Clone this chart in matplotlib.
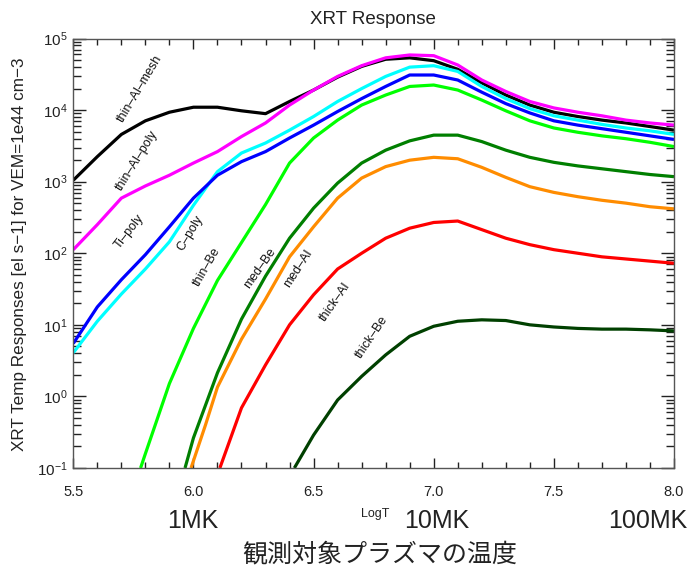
import numpy as np
import matplotlib
matplotlib.use("Agg")
import matplotlib.pyplot as plt
from matplotlib.ticker import LogLocator, MultipleLocator, LogFormatterSciNotation, NullFormatter

plt.rcParams['font.family'] = ['Liberation Sans', 'DejaVu Sans']
plt.rcParams['mathtext.fontset'] = 'custom'
plt.rcParams['mathtext.rm'] = 'Liberation Sans'

# ---- data (log10 of response) ----
logT_full = [5.5, 5.6, 5.7, 5.8, 5.9, 6.0, 6.1, 6.2, 6.3, 6.4, 6.5, 6.6, 6.7,
             6.8, 6.9, 7.0, 7.1, 7.2, 7.3, 7.4, 7.5, 7.6, 7.7, 7.8, 7.9, 8.0]

thin_al_mesh = [3.02, 3.35, 3.66, 3.85, 3.97, 4.04, 4.04, 3.99, 3.95, 4.12, 4.28, 4.46, 4.61,
                4.71, 4.73, 4.69, 4.57, 4.38, 4.21, 4.07, 3.97, 3.91, 3.86, 3.82, 3.77, 3.72]
thin_al_poly = [2.05, 2.40, 2.77, 2.94, 3.09, 3.26, 3.42, 3.63, 3.82, 4.07, 4.28, 4.47, 4.62,
                4.73, 4.77, 4.76, 4.63, 4.42, 4.26, 4.12, 4.03, 3.97, 3.92, 3.86, 3.82, 3.79]
c_poly = [0.61, 1.05, 1.43, 1.78, 2.16, 2.67, 3.14, 3.40, 3.54, 3.72, 3.91, 4.12, 4.30,
          4.47, 4.60, 4.62, 4.54, 4.33, 4.16, 4.02, 3.92, 3.86, 3.80, 3.75, 3.71, 3.66]
ti_poly = [0.74, 1.25, 1.63, 1.98, 2.37, 2.77, 3.09, 3.28, 3.42, 3.61, 3.79, 3.98, 4.16,
           4.33, 4.49, 4.49, 4.42, 4.25, 4.09, 3.96, 3.85, 3.79, 3.74, 3.69, 3.64, 3.59]

logT_thin_be = [5.78, 5.8, 5.9, 6.0, 6.1, 6.2, 6.3, 6.4, 6.5, 6.6, 6.7, 6.8, 6.9, 7.0,
                7.1, 7.2, 7.3, 7.4, 7.5, 7.6, 7.7, 7.8, 7.9, 8.0]
thin_be = [-1.0, -0.8, 0.18, 0.95, 1.62, 2.15, 2.68, 3.26, 3.61, 3.86, 4.07, 4.21, 4.33, 4.35,
           4.28, 4.14, 3.99, 3.85, 3.75, 3.69, 3.64, 3.60, 3.55, 3.49]

logT_med_be = [5.965, 6.0, 6.1, 6.2, 6.3, 6.4, 6.5, 6.6, 6.7, 6.8, 6.9, 7.0,
               7.1, 7.2, 7.3, 7.4, 7.5, 7.6, 7.7, 7.8, 7.9, 8.0]
med_be = [-1.0, -0.58, 0.33, 1.08, 1.68, 2.21, 2.63, 2.98, 3.26, 3.44, 3.57, 3.65,
          3.65, 3.56, 3.44, 3.34, 3.27, 3.22, 3.18, 3.14, 3.10, 3.07]

logT_med_al = [5.99, 6.05, 6.1, 6.2, 6.3, 6.4, 6.5, 6.6, 6.7, 6.8, 6.9, 7.0,
               7.1, 7.2, 7.3, 7.4, 7.5, 7.6, 7.7, 7.8, 7.9, 8.0]
med_al = [-1.0, -0.40, 0.13, 0.80, 1.36, 1.95, 2.37, 2.77, 3.05, 3.21, 3.30, 3.34,
          3.32, 3.20, 3.06, 2.93, 2.85, 2.79, 2.74, 2.70, 2.65, 2.62]

logT_thick_al = [6.11, 6.2, 6.25, 6.3, 6.4, 6.5, 6.6, 6.7, 6.8, 6.9, 7.0,
                 7.1, 7.2, 7.3, 7.4, 7.5, 7.6, 7.7, 7.8, 7.9, 8.0]
thick_al = [-1.0, -0.16, 0.14, 0.44, 1.0, 1.42, 1.78, 2.0, 2.21, 2.35, 2.43,
            2.45, 2.33, 2.21, 2.12, 2.05, 2.0, 1.95, 1.92, 1.89, 1.86]

logT_thick_be = [6.42, 6.5, 6.6, 6.7, 6.8, 6.9, 7.0, 7.1, 7.2, 7.3, 7.4, 7.5, 7.6,
                 7.7, 7.8, 7.9, 8.0]
thick_be = [-1.0, -0.54, -0.05, 0.28, 0.58, 0.84, 0.98, 1.05, 1.07, 1.06, 1.0, 0.97, 0.95,
            0.94, 0.94, 0.93, 0.915]

series = [
    (logT_full, thin_al_mesh, '#000000'),
    (logT_full, thin_al_poly, '#FF00FF'),
    (logT_full, c_poly, '#00FFFF'),
    (logT_full, ti_poly, '#0000FF'),
    (logT_thin_be, thin_be, '#00FF00'),
    (logT_med_be, med_be, '#007F00'),
    (logT_med_al, med_al, '#FF8C00'),
    (logT_thick_al, thick_al, '#FF0000'),
    (logT_thick_be, thick_be, '#004000'),
]

# curve labels: text, logT, log10(value), rotation
labels = [
    ('thin\u2013Al\u2013mesh', 5.778, 4.30, 59),
    ('thin\u2013Al\u2013poly', 5.765, 3.30, 58),
    ('Ti\u2013poly', 5.732, 2.30, 52),
    ('C\u2013poly', 5.986, 2.28, 59),
    ('thin\u2013Be', 6.056, 1.81, 60),
    ('med\u2013Be', 6.278, 1.79, 55),
    ('med\u2013Al', 6.436, 1.79, 57),
    ('thick\u2013Al', 6.59, 1.32, 55),
    ('thick\u2013Be', 6.743, 0.82, 56),
]

W, H = 697, 570
fig = plt.figure(figsize=(W / 100, H / 100), dpi=100)
ax = fig.add_axes([73.3 / W, 1 - 468 / H, (674 - 73.3) / W, (468 - 38.5) / H])

for x, y, c in series:
    ax.plot(x, 10 ** np.array(y), color=c, lw=2.3, solid_joinstyle='round',
            solid_capstyle='butt')

ax.set_yscale('log')
ax.set_xlim(5.5, 8.0)
ax.set_ylim(0.1, 1e5)

ax.xaxis.set_major_locator(MultipleLocator(0.5))
ax.xaxis.set_minor_locator(MultipleLocator(0.1))
ax.xaxis.set_major_formatter(plt.FuncFormatter(lambda v, p: f'{v:.1f}'))
ax.yaxis.set_major_locator(LogLocator(base=10, numticks=20))
ax.yaxis.set_minor_locator(LogLocator(base=10, subs=np.arange(2, 10), numticks=20))
ax.yaxis.set_major_formatter(LogFormatterSciNotation())
ax.yaxis.set_minor_formatter(NullFormatter())

ax.tick_params(axis='both', which='both', direction='in', top=True, right=True,
               colors='#222222', labelcolor='#222222', width=1.0)
ax.tick_params(axis='x', which='major', length=7, labelsize=10.5, pad=12)
ax.tick_params(axis='x', which='minor', length=4)
ax.tick_params(axis='y', which='major', length=9.5, labelsize=11, pad=4)
ax.tick_params(axis='y', which='minor', length=5.5)
for s in ax.spines.values():
    s.set_color('#555555')
    s.set_linewidth(1.0)

for txt, x, ly, rot in labels:
    ax.text(x, 10 ** ly, txt, rotation=rot, fontsize=9, color='#111111',
            ha='center', va='center', rotation_mode='anchor')

fig.text(373 / W, 1 - 19 / H, 'XRT Response', ha='center', va='center',
         fontsize=13.5, color='#222222')
fig.text(20 / W, 1 - 254 / H, 'XRT Temp Responses [el s\u22121] for VEM=1e44 cm\u22123',
         rotation=90, ha='center', va='center', fontsize=12.3, color='#222222')

fig.text(375 / W, 1 - 514 / H, 'LogT', ha='center', va='center', fontsize=9, color='#222222')
fig.text(193 / W, 1 - 521 / H, '1MK', ha='center', va='center', fontsize=18, color='#222222')
fig.text(437 / W, 1 - 521 / H, '10MK', ha='center', va='center', fontsize=18, color='#222222')
fig.text(648 / W, 1 - 521 / H, '100MK', ha='center', va='center', fontsize=18, color='#222222')
fig.text(380 / W, 1 - 554 / H, '観測対象プラズマの温度', ha='center', va='center',
         fontsize=18, color='#222222', family=['Noto Sans CJK JP', 'DejaVu Sans'])

fig.savefig('out.png', dpi=100)
